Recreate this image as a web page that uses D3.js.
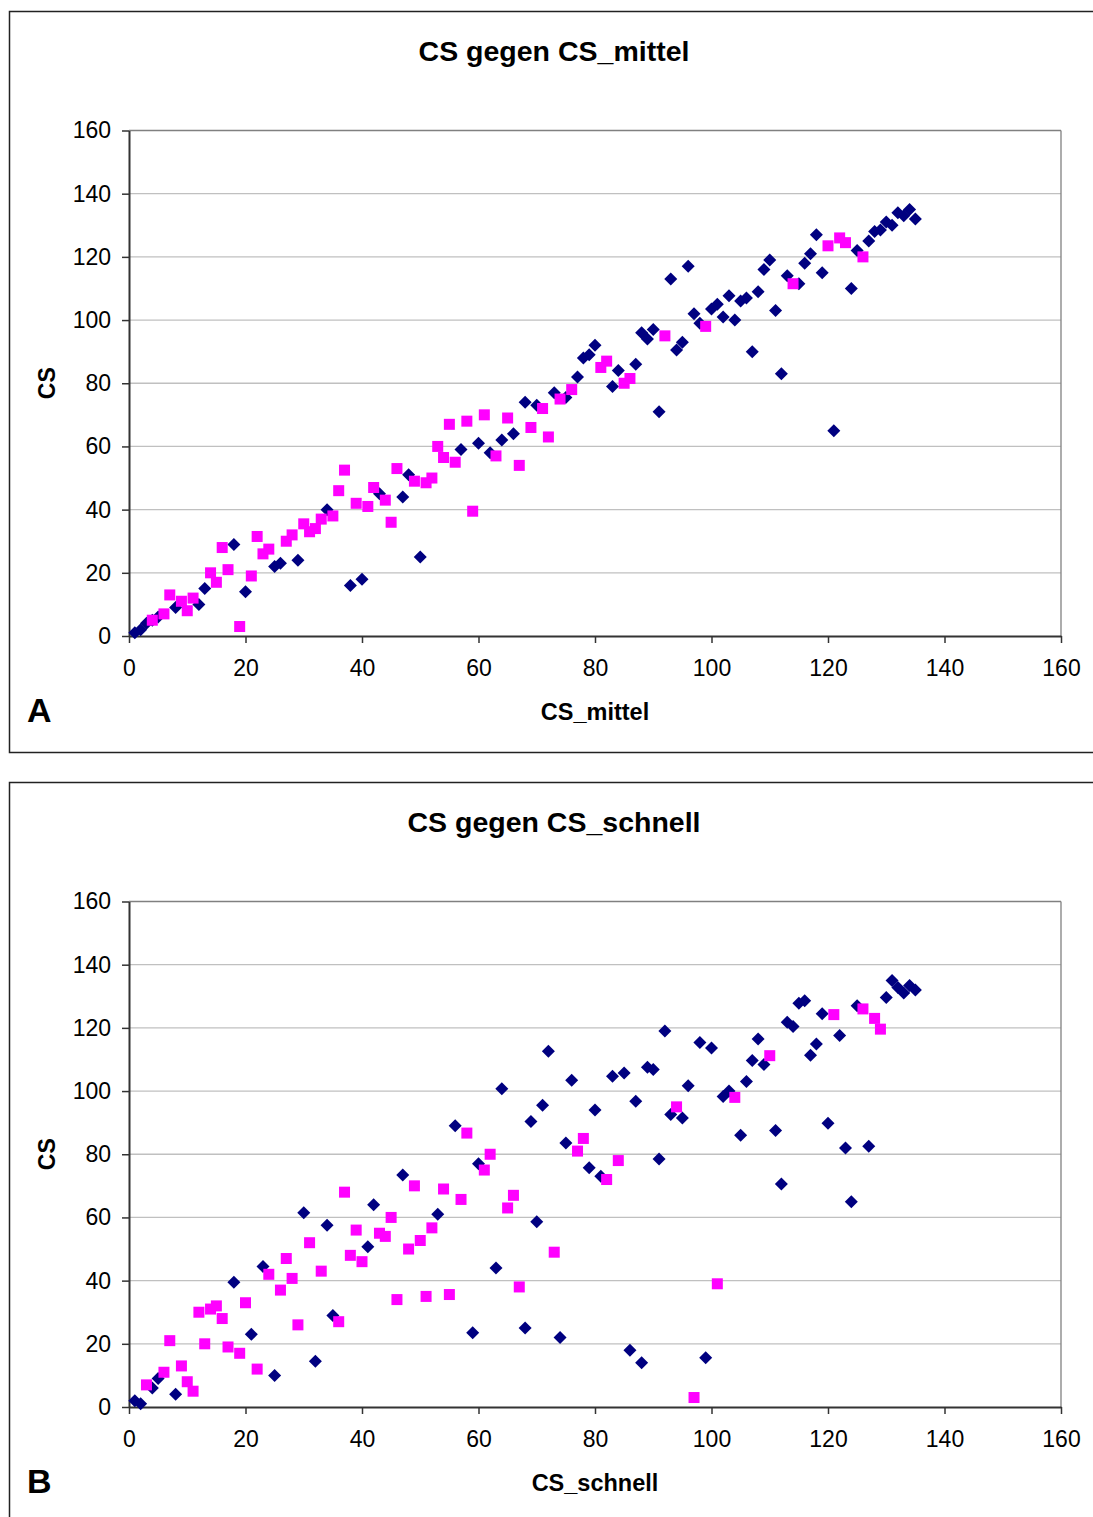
<!DOCTYPE html>
<html>
<head>
<meta charset="utf-8">
<script src="https://cdn.jsdelivr.net/npm/d3@7"></script>
<style>
  body { margin: 0; background: #fff; }
  svg { display: block; font-family: "Liberation Sans", Arial, sans-serif; }
</style>
</head>
<body>
<div id="chart"></div>
<script>
// panel A: CS against CS_mittel
const mittelNavy = [[1,1],[2,2],[3,4],[4,5],[5,6],[8,9],[12,10],[13,15],[18,29],[20,14],[25,22],[26,23],[29,24],
  [34,40],[38,16],[40,18],[43,45],[47,44],[48,51],[50,25],[57,59],[60,61],[62,58],[64,62],[66,64],[68,74],[70,73],
  [73,77],[75,75.5],[77,82],[78,88],[79,89],[80,92],[83,79],[84,84],[87,86],[88,96],[89,94],[90,97],[91,71],
  [93,113],[94,90.5],[95,93],[96,117],[97,102],[98,99],[100,103.5],[101,105],[102,101],[103,107.7],[104,100],
  [105,106],[106,107],[107,90],[108,109],[109,116],[110,119],[111,103],[112,83],[113,114],[115,111.5],[116,118],
  [117,121],[118,127],[119,115],[121,65],[124,110],[125,122],[127,125],[128,128],[129,128.5],[130,131],[131,130],
  [132,134],[133,133],[134,135],[135,132]];
const mittelPink = [[4,5],[6,7],[7,13],[9,11],[10,8],[11,12],[14,20],[15,17],[16,28],[17,21],[19,3],[21,19],
  [22,31.5],[23,26],[24,27.5],[27,30],[28,32],[30,35.5],[31,33],[32,34],[33,37],[35,38],[36,46],[37,52.5],[39,42],
  [41,41],[42,47],[44,43],[45,36],[46,53],[49,49],[51,48.5],[52,50],[53,60],[54,56.5],[55,67],[56,55],[58,68],
  [59,39.5],[61,70],[63,57],[65,69],[67,54],[69,66],[71,72],[72,63],[74,75],[76,78],[81,85],[82,87],[85,80],
  [86,81.5],[92,95],[99,98],[114,111.5],[120,123.5],[122,126],[123,124.5],[126,120]];

// panel B: CS against CS_schnell
const schnellNavy = [[1,2],[2,1],[4,6],[5,9],[8,4],[18,39.5],[21,23],[23,44.5],[25,10],[30,61.5],[32,14.5],
  [34,57.5],[35,29],[41,50.7],[42,64],[47,73.4],[53,61],[56,89],[59,23.5],[60,77],[63,44],[64,100.7],[68,25],
  [69,90.4],[70,58.6],[71,95.5],[72,112.6],[74,22],[75,83.6],[76,103.4],[79,75.7],[80,94],[81,73],[83,104.7],
  [85,105.7],[86,18],[87,96.8],[88,14],[89,107.5],[90,106.8],[91,78.5],[92,119],[93,92.6],[95,91.5],[96,101.7],
  [98,115.4],[99,15.6],[100,113.6],[102,98.3],[103,100],[105,86],[106,103],[107,109.7],[108,116.5],[109,108.4],
  [111,87.5],[112,70.6],[113,121.8],[114,120.4],[115,127.8],[116,128.6],[117,111.3],[118,114.9],[119,124.5],
  [120,89.8],[122,117.6],[123,82],[124,65],[125,127],[127,82.5],[130,129.6],[131,135],[132,132.8],[133,131],
  [134,133.4],[135,132]];
const schnellPink = [[3,7],[6,11],[7,21],[9,13],[10,8],[11,5],[12,30],[13,20],[14,31],[15,32],[16,28],[17,19],
  [19,17],[20,33],[22,12],[24,42],[26,37],[27,47],[28,40.7],[29,26],[31,52],[33,43],[36,27],[37,68],[38,48],
  [39,56],[40,46],[43,55],[44,54],[45,60],[46,34],[48,50],[49,70],[50,52.7],[51,35],[52,56.7],[54,69],[55,35.6],
  [57,65.7],[58,86.7],[61,75],[62,80],[65,63],[66,67],[67,38],[73,49],[77,81],[78,85],[82,72],[84,78],[94,95],
  [97,3],[101,39],[104,98],[110,111.2],[121,124.2],[126,126],[128,123],[129,119.6]];

const axisTicks = [0, 20, 40, 60, 80, 100, 120, 140, 160];

const panels = [
  {title: 'CS gegen CS_mittel', xLabel: 'CS_mittel', letter: 'A', top: 11, navy: mittelNavy, pink: mittelPink},
  {title: 'CS gegen CS_schnell', xLabel: 'CS_schnell', letter: 'B', top: 782, navy: schnellNavy, pink: schnellPink}
];

const W = 1093, H = 1517;
const svg = d3.select('#chart').append('svg')
  .attr('width', W).attr('height', H);

panels.forEach(function(p) {
  const g = svg.append('g').attr('transform', 'translate(0,' + p.top + ')');

  // outer frame
  g.append('rect')
    .attr('x', 9.5).attr('y', 0.5)
    .attr('width', 1100).attr('height', 741)
    .attr('fill', 'none').attr('stroke', '#222').attr('stroke-width', 1.5);

  const left = 129, right = 1061, top = 119.5, bottom = 625;
  const x = d3.scaleLinear().domain([0, 160]).range([left, right]);
  const y = d3.scaleLinear().domain([0, 160]).range([bottom, top]);

  // gridlines
  g.append('g').selectAll('line')
    .data(axisTicks.slice(1))
    .enter().append('line')
    .attr('x1', left).attr('x2', right)
    .attr('y1', d => y(d)).attr('y2', d => y(d))
    .attr('stroke', d => d == 160 ? '#808080' : '#c0c0c0')
    .attr('stroke-width', 1.3);

  g.append('line')
    .attr('x1', right).attr('x2', right)
    .attr('y1', top).attr('y2', bottom)
    .attr('stroke', '#808080').attr('stroke-width', 1.3);

  // axes
  const xAxis = g.append('g')
    .attr('transform', 'translate(0,' + bottom + ')')
    .call(d3.axisBottom(x).tickValues(axisTicks).tickSize(7).tickPadding(17).tickSizeOuter(0));
  const yAxis = g.append('g')
    .attr('transform', 'translate(' + left + ',0)')
    .call(d3.axisLeft(y).tickValues(axisTicks).tickSize(7).tickPadding(11).tickSizeOuter(0));

  [xAxis, yAxis].forEach(function(a) {
    a.select('.domain').attr('stroke', '#333').attr('stroke-width', 2);
    a.selectAll('.tick line').attr('stroke', '#333').attr('stroke-width', 1.5);
    a.selectAll('.tick text')
      .attr('font-size', 23)
      .attr('font-family', '"Liberation Sans", Arial, sans-serif')
      .attr('fill', '#000');
  });

  // navy diamonds first, pink squares on top
  g.append('g').selectAll('path')
    .data(p.navy)
    .enter().append('path')
    .attr('d', 'M0,-6.5L6.5,0L0,6.5L-6.5,0Z')
    .attr('transform', d => 'translate(' + x(d[0]) + ',' + y(d[1]) + ')')
    .attr('fill', '#000080');

  g.append('g').selectAll('rect')
    .data(p.pink)
    .enter().append('rect')
    .attr('x', d => x(d[0]) - 5.5)
    .attr('y', d => y(d[1]) - 5.5)
    .attr('width', 11).attr('height', 11)
    .attr('fill', '#ff00ff');

  // texts
  g.append('text')
    .text(p.title)
    .attr('x', 554).attr('y', 50)
    .attr('text-anchor', 'middle')
    .attr('font-weight', 'bold')
    .attr('font-size', 28.5);

  g.append('text')
    .text(p.xLabel)
    .attr('x', 595).attr('y', 709)
    .attr('text-anchor', 'middle')
    .attr('font-weight', 'bold')
    .attr('font-size', 23.5);

  g.append('text')
    .text('CS')
    .attr('text-anchor', 'middle')
    .attr('font-weight', 'bold')
    .attr('font-size', 23)
    .attr('transform', 'translate(55,' + ((top + bottom) / 2) + ') rotate(-90)');

  g.append('text')
    .text(p.letter)
    .attr('x', 27).attr('y', 711)
    .attr('font-weight', 'bold')
    .attr('font-size', 34);
});
</script>
</body>
</html>
